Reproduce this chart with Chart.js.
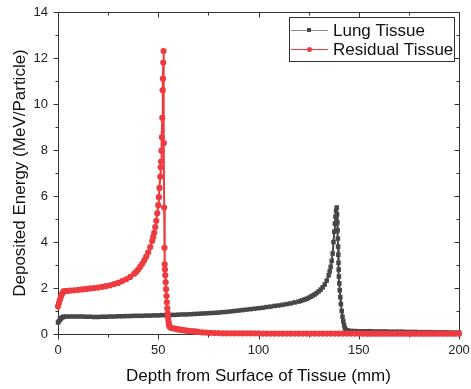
<!DOCTYPE html>
<html>
<head>
<meta charset="utf-8">
<script src="https://cdn.jsdelivr.net/npm/chart.js@4/dist/chart.umd.min.js"></script>
<style>
  html, body { margin: 0; padding: 0; background: #fff; }
</style>
</head>
<body>
<canvas id="chart" width="471" height="389"></canvas>
<script>
// depth (mm) and deposited energy (MeV/particle)
const lungDepth = [0, 0.5, 1, 1.5, 2, 2.5, 3, 4, 6, 8, 10, 12, 14, 16, 18, 20, 22, 24, 26, 28, 30,
  32, 34, 36, 38, 40, 42, 44, 46, 48, 50, 52, 54, 56, 58, 60, 62, 64, 66, 68, 70, 72, 74, 76, 78, 80,
  82, 84, 86, 88, 90, 92, 94, 96, 98, 100, 102, 104, 106, 108, 110, 112, 114, 116, 118, 120,
  121, 122, 123, 124, 125, 126, 127, 128, 129, 130, 131, 132, 133, 134, 135, 135.5, 136, 136.5,
  137, 137.4, 137.8, 138.1, 138.4, 138.7, 139,
  139.2, 139.35, 139.5, 139.6, 139.7, 139.8, 139.9, 140, 140.1, 140.3, 140.5, 140.8, 141.1, 141.5,
  141.9, 142.3, 142.7, 143.1, 143.6, 144.2, 145, 146, 148, 150, 152, 154, 156, 158, 160, 162, 164,
  166, 168, 170, 172, 174, 176, 178, 180, 182, 184, 186, 188, 190, 192, 194, 196, 198, 200];
const lungEnergy = [0.50, 0.56, 0.62, 0.68, 0.72, 0.74, 0.75, 0.76, 0.76, 0.76, 0.76, 0.76, 0.75, 0.75, 0.74, 0.74, 0.75, 0.75, 0.76, 0.76, 0.77,
  0.77, 0.78, 0.78, 0.79, 0.79, 0.79, 0.80, 0.80, 0.81, 0.81, 0.82, 0.82, 0.83, 0.83, 0.84, 0.85, 0.85, 0.86, 0.87, 0.88, 0.89, 0.90, 0.91, 0.92, 0.93,
  0.95, 0.96, 0.98, 1.00, 1.02, 1.04, 1.06, 1.08, 1.10, 1.12, 1.14, 1.17, 1.19, 1.22, 1.24, 1.27, 1.30, 1.33, 1.37, 1.41,
  1.44, 1.47, 1.50, 1.53, 1.57, 1.62, 1.67, 1.72, 1.78, 1.85, 1.93, 2.03, 2.15, 2.32, 2.55, 2.72, 2.92, 3.18,
  3.5, 4.0, 4.45, 4.8, 5.1, 5.35, 5.5,
  5.2, 4.85, 4.5, 4.15, 3.8, 3.45, 3.1, 2.8, 2.5, 2.2, 1.9, 1.6, 1.3, 1.0,
  0.75, 0.55, 0.38, 0.25, 0.18, 0.15, 0.14, 0.13, 0.13, 0.12, 0.12, 0.12, 0.12, 0.11, 0.11, 0.11, 0.11,
  0.10, 0.10, 0.10, 0.10, 0.09, 0.09, 0.09, 0.08, 0.08, 0.08, 0.08, 0.07, 0.07, 0.07, 0.07, 0.06, 0.06, 0.06];

const residualDepth = [0, 0.5, 1, 1.5, 2, 2.5, 3, 4, 5, 6, 8, 10, 12, 14, 16, 18, 20, 22, 24, 26, 28,
  30, 32, 34, 36, 38, 39, 40, 41, 42, 43, 44, 45, 46, 47, 47.5, 48, 48.5, 49, 49.5, 50, 50.3, 50.6,
  51, 51.2, 51.4, 51.6, 51.8, 52, 52.2, 52.35, 52.5, 52.65,
  52.8, 52.95, 53.1, 53.2, 53.35, 53.5, 53.7, 53.9, 54.1, 54.3, 54.5, 54.7, 54.9, 55.1, 55.3, 55.5,
  55.8, 56.2, 57, 58, 59, 60, 61, 62, 63, 64, 65, 66, 67, 68, 69, 70, 72, 74, 76, 78, 80,
  82, 84, 86, 88, 90, 92, 94, 96, 98, 100, 102, 104, 106, 108, 110, 112, 114, 116, 118, 120,
  122, 124, 126, 128, 130, 132, 134, 136, 138, 140, 142, 144, 146, 148, 150, 152, 154, 156, 158, 160,
  162, 164, 166, 168, 170, 172, 174, 176, 178, 180, 182, 184, 186, 188, 190, 192, 194, 196, 198, 200];
const residualEnergy = [1.20, 1.35, 1.50, 1.63, 1.74, 1.82, 1.86, 1.87, 1.88, 1.89, 1.90, 1.92, 1.94, 1.96, 1.98, 2.00, 2.02, 2.05, 2.08, 2.12, 2.17,
  2.22, 2.30, 2.38, 2.48, 2.62, 2.70, 2.80, 2.92, 3.05, 3.20, 3.36, 3.55, 3.78, 4.05, 4.22, 4.40, 4.65, 4.92, 5.25, 5.60, 5.95, 6.35,
  6.84, 7.25, 7.5, 7.97, 8.55, 9.4, 10.6, 11.1, 11.8, 12.3,
  8.3, 5.5, 3.75, 3.03, 2.8, 2.55, 2.25, 1.95, 1.65, 1.38, 1.12, 0.9, 0.72, 0.56, 0.44, 0.36,
  0.30, 0.28, 0.26, 0.24, 0.22, 0.20, 0.19, 0.17, 0.16, 0.15, 0.14, 0.13, 0.12, 0.11, 0.10, 0.09, 0.07, 0.06, 0.05, 0.04, 0.04,
  0.03, 0.03, 0.03, 0.03, 0.03, 0.03, 0.03, 0.03, 0.03, 0.03, 0.02, 0.02, 0.02, 0.02, 0.02, 0.02, 0.02, 0.02, 0.02, 0.02,
  0.02, 0.02, 0.02, 0.02, 0.02, 0.02, 0.02, 0.02, 0.02, 0.02, 0.02, 0.02, 0.02, 0.02, 0.02, 0.015, 0.015, 0.015, 0.015, 0.015,
  0.015, 0.015, 0.015, 0.015, 0.015, 0.015, 0.015, 0.015, 0.015, 0.015, 0.015, 0.015, 0.015, 0.015, 0.015, 0.015, 0.015, 0.015, 0.015, 0.015];

const seriesNames = ["Lung Tissue", "Residual Tissue"];
const xTicks = [0, 50, 100, 150, 200];
const yTicks = [0, 2, 4, 6, 8, 10, 12, 14];

const gray = "#474747";
const red = "#ef3b3f";
const fontFamily = "'Liberation Sans', Arial, sans-serif";

function toPoints(xs, ys) {
  return xs.map((x, i) => ({ x: x, y: ys[i] }));
}

// frame + inner/outer ticks under the data, boxed legend on top
const frameAndLegend = {
  id: "frameAndLegend",
  beforeDatasetsDraw(chart) {
    const ctx = chart.ctx;
    const a = chart.chartArea;
    const xs = chart.scales.x;
    const ys = chart.scales.y;
    const L = Math.round(a.left) + 0.5, R = Math.round(a.right) + 0.5;
    const T = Math.round(a.top) + 0.5, B = Math.round(a.bottom) + 0.5;
    ctx.save();
    ctx.strokeStyle = "#333";
    ctx.lineWidth = 1;
    ctx.beginPath();
    ctx.rect(L, T, R - L, B - T);
    xs.ticks.forEach((t) => {
      const px = Math.round(xs.getPixelForValue(t.value)) + 0.5;
      const len = xTicks.includes(t.value) ? 5 : 3;
      ctx.moveTo(px, B); ctx.lineTo(px, B + len);
      ctx.moveTo(px, T); ctx.lineTo(px, T + len);
    });
    ys.ticks.forEach((t) => {
      const py = Math.round(ys.getPixelForValue(t.value)) + 0.5;
      const len = yTicks.includes(t.value) ? 5 : 3;
      ctx.moveTo(L, py); ctx.lineTo(L - len, py);
      ctx.moveTo(R, py); ctx.lineTo(R - len, py);
    });
    ctx.stroke();
    ctx.restore();
  },
  afterDraw(chart) {
    const ctx = chart.ctx;
    ctx.save();
    ctx.lineWidth = 1;
    const bx = 289.5, by = 17.5, bw = 165, bh = 44;
    ctx.fillStyle = "#fff";
    ctx.fillRect(bx, by, bw, bh);
    ctx.strokeStyle = "#333";
    ctx.strokeRect(bx, by, bw, bh);
    ctx.font = "17px " + fontFamily;
    ctx.textBaseline = "middle";
    const rows = [
      { name: seriesNames[0], color: gray, line: "#8a8a8a", y: 30, marker: "rect" },
      { name: seriesNames[1], color: red, line: red, y: 49, marker: "circle" }
    ];
    rows.forEach((r) => {
      ctx.strokeStyle = r.line;
      ctx.beginPath();
      ctx.moveTo(291, r.y + 0.5);
      ctx.lineTo(328, r.y + 0.5);
      ctx.stroke();
      ctx.fillStyle = r.color;
      if (r.marker === "rect") {
        ctx.fillRect(307, r.y - 2, 4, 4);
      } else {
        ctx.beginPath();
        ctx.arc(309.5, r.y + 0.5, 2.5, 0, Math.PI * 2);
        ctx.fill();
      }
      ctx.fillStyle = "#111";
      ctx.fillText(r.name, 333, r.y + 1);
    });
    ctx.restore();
  }
};

const ctx = document.getElementById("chart").getContext("2d");
new Chart(ctx, {
  type: "scatter",
  data: {
    datasets: [
      {
        label: seriesNames[0],
        data: toPoints(lungDepth, lungEnergy),
        showLine: true,
        clip: false,
        borderColor: gray,
        borderWidth: 2,
        backgroundColor: gray,
        pointStyle: "rect",
        pointRadius: 3.2,
        pointBorderWidth: 0,
        order: 2
      },
      {
        label: seriesNames[1],
        data: toPoints(residualDepth, residualEnergy),
        showLine: true,
        clip: false,
        borderColor: red,
        borderWidth: 2,
        backgroundColor: red,
        pointStyle: "circle",
        pointRadius: 3.1,
        pointBorderWidth: 0,
        order: 1
      }
    ]
  },
  options: {
    responsive: false,
    animation: false,
    layout: { padding: { top: 12, right: 12, left: 0, bottom: 0 } },
    plugins: { legend: { display: false }, tooltip: { enabled: false } },
    scales: {
      x: {
        type: "linear",
        min: 0,
        max: 200,
        afterFit: (s) => { s.height = 55; s.paddingLeft = 0; s.paddingRight = 0; },
        grid: { display: false, tickLength: 5 },
        border: { display: false },
        ticks: {
          stepSize: 25,
          autoSkip: false,
          maxRotation: 0,
          padding: 4,
          color: "#222",
          font: { family: fontFamily, size: 13 },
          callback: (v) => (xTicks.includes(v) ? String(v) : "")
        },
        title: {
          display: true,
          text: "Depth from Surface of Tissue (mm)",
          color: "#111",
          font: { family: fontFamily, size: 17 },
          padding: { top: 0, bottom: 2 }
        }
      },
      y: {
        min: 0,
        max: 14,
        afterFit: (s) => { s.width = 58; s.paddingTop = 0; s.paddingBottom = 0; },
        grid: { display: false, tickLength: 5 },
        border: { display: false },
        ticks: {
          stepSize: 1,
          autoSkip: false,
          padding: 5,
          color: "#222",
          font: { family: fontFamily, size: 13 },
          callback: (v) => (yTicks.includes(v) ? String(v) : "")
        },
        title: {
          display: true,
          text: "Deposited Energy (MeV/Particle)",
          color: "#111",
          font: { family: fontFamily, size: 17 },
          padding: { top: 10, bottom: 0 }
        }
      }
    }
  },
  plugins: [frameAndLegend]
});
</script>
</body>
</html>
